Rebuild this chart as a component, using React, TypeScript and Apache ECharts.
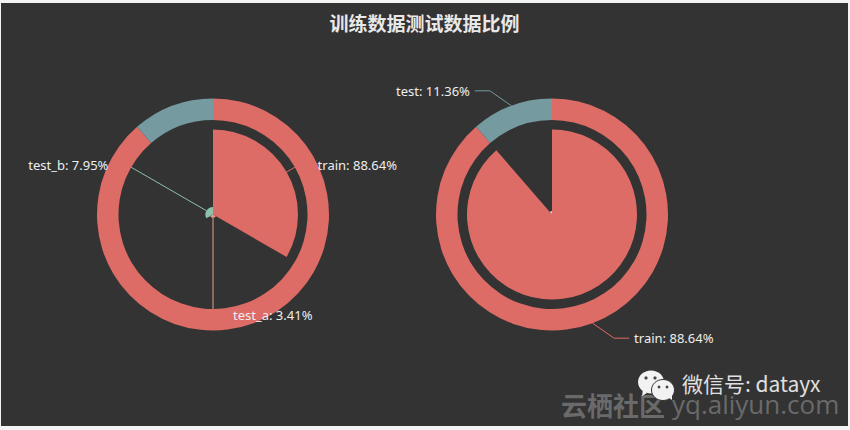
import React, { useEffect, useRef } from "react";
import * as echarts from "echarts";

const titleText = "训练数据测试数据比例";
const shareNames = ["train", "test"];
const shareValues = [88.64, 11.36];
const splitNames = ["train", "test_a", "test_b"];
const splitValues = [88.64, 3.41, 7.95];
const splitLineEnds = [13, 15, 13];

const RED = "#dd6b66";
const TEAL = "#759aa0";
const SALMON = "#e69d87";
const GREEN = "#8dc1a9";
const TEXT = "#eeeeee";
const FONT = "'Noto Sans', 'Noto Sans CJK SC', sans-serif";
const LEFT_C = [212, 211.5];
const RIGHT_C = [551, 211.5];
const RING_IN = 94.5;
const RING_OUT = 116;
const ELBOW_R = 100;

const baseLabel = { color: TEXT, fontSize: 13, fontFamily: FONT, formatter: "{b}: {d}%" };
const ringData = () => [
  { name: shareNames[0], value: shareValues[0], itemStyle: { color: RED } },
  { name: shareNames[1], value: shareValues[1], itemStyle: { color: TEAL } },
];
const splitColors = [RED, SALMON, GREEN];

export default function App() {
  const ref = useRef<HTMLDivElement>(null);
  useEffect(() => {
    document.body.style.margin = "0";
    document.body.style.background = "#f4f4f4";
    const chart = echarts.init(ref.current!, null, { renderer: "svg" });
    chart.setOption({
      animation: false,
      backgroundColor: "#333333",
      title: {
        text: titleText,
        left: "center",
        top: 5,
        textStyle: { color: "#e8e8e8", fontSize: 19, fontWeight: "bold", fontFamily: "'Noto Sans CJK SC', sans-serif" },
      },
      series: [
        {
          type: "pie",
          center: LEFT_C,
          radius: [RING_IN, RING_OUT],
          silent: true,
          z: 1,
          label: { show: false },
          labelLine: { show: false },
          data: ringData(),
        },
        {
          type: "pie",
          roseType: "area",
          center: LEFT_C,
          radius: [0, 85],
          silent: true,
          avoidLabelOverlap: false,
          z: 2,
          label: baseLabel,
          labelLayout: (p: any) => {
            const pts = p.labelLinePoints;
            if (!pts) return {};
            const k = RING_IN / ELBOW_R;
            const end = [LEFT_C[0] + (pts[1][0] - LEFT_C[0]) * k, LEFT_C[1] + (pts[1][1] - LEFT_C[1]) * k];
            return { labelLinePoints: [pts[0], end, end] };
          },
          data: splitNames.map((n, i) => ({
            name: n,
            value: splitValues[i],
            itemStyle: { color: splitColors[i] },
            labelLine: { length: ELBOW_R - 85, length2: splitLineEnds[i], lineStyle: { width: 1 } },
          })),
        },
        {
          type: "pie",
          center: RIGHT_C,
          radius: [0, 85],
          silent: true,
          z: 1,
          label: { show: false },
          labelLine: { show: false },
          data: [
            { name: shareNames[0], value: shareValues[0], itemStyle: { color: RED } },
            { name: shareNames[1], value: shareValues[1], itemStyle: { color: "transparent" } },
          ],
        },
        {
          type: "pie",
          center: RIGHT_C,
          radius: [0, 3.5],
          silent: true,
          z: 1,
          label: { show: false },
          labelLine: { show: false },
          data: [
            { name: shareNames[0], value: shareValues[0], itemStyle: { color: "transparent" } },
            { name: shareNames[1], value: shareValues[1], itemStyle: { color: "#c4cfc4" } },
          ],
        },
        {
          type: "pie",
          center: RIGHT_C,
          radius: [RING_IN, RING_OUT],
          silent: true,
          avoidLabelOverlap: false,
          z: 2,
          label: baseLabel,
          labelLine: { length: 16, length2: 31, lineStyle: { width: 1 } },
          labelLayout: (p: any) => {
            const pts = p.labelLinePoints;
            if (!pts) return {};
            const sign = pts[2][0] > pts[1][0] ? 1 : -1;
            return { labelLinePoints: [pts[0], [pts[1][0] + sign * 16, pts[1][1]], pts[2]] };
          },
          data: ringData(),
        },
      ],
      graphic: [
        { type: "ellipse", shape: { cx: 650, cy: 379, rx: 13, ry: 11.5 }, style: { fill: "#f2f2f2" } },
        { type: "polygon", shape: { points: [[642, 386], [646, 390], [641, 393]] }, style: { fill: "#f2f2f2" } },
        { type: "ellipse", shape: { cx: 662, cy: 387, rx: 11.5, ry: 10.5 }, style: { fill: "#f2f2f2", stroke: "#333333", lineWidth: 1 } },
        { type: "polygon", shape: { points: [[667, 394], [671, 397], [671, 392]] }, style: { fill: "#f2f2f2" } },
        { type: "circle", shape: { cx: 645, cy: 375, r: 1.6 }, style: { fill: "#444444" } },
        { type: "circle", shape: { cx: 654, cy: 375, r: 1.6 }, style: { fill: "#444444" } },
        { type: "circle", shape: { cx: 658, cy: 384, r: 1.4 }, style: { fill: "#444444" } },
        { type: "circle", shape: { cx: 666, cy: 384, r: 1.4 }, style: { fill: "#444444" } },
        {
          type: "text",
          x: 560,
          y: 401,
          style: { text: "云栖社区", fill: "#6a6a6a", font: "bold 26px 'Noto Sans CJK SC', sans-serif", verticalAlign: "middle" },
          z: -1,
        },
        {
          type: "text",
          x: 671,
          y: 401,
          style: { text: "yq.aliyun.com", fill: "#6a6a6a", font: "26px 'Open Sans', sans-serif", verticalAlign: "middle" },
          z: -1,
        },
        {
          type: "text",
          x: 681,
          y: 380,
          style: { text: "微信号: datayx", fill: "#e0e0e0", font: "21px 'Noto Sans CJK SC', sans-serif", verticalAlign: "middle" },
        },
      ],
    });
    return () => chart.dispose();
  }, []);
  return (
    <div style={{ position: "relative", width: 850, height: 430 }}>
      <div ref={ref} style={{ position: "absolute", left: 1, top: 3, width: 847, height: 423 }} />
    </div>
  );
}
